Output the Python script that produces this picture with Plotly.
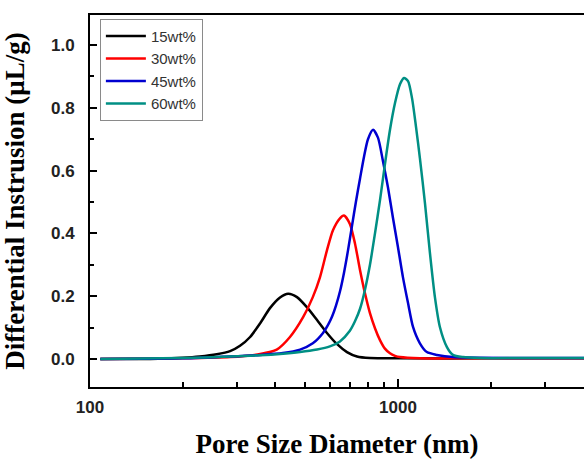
import plotly.graph_objects as go

# Pore diameter (nm) and differential intrusion (uL/g)
d15 = [108, 157, 200, 227, 258, 285, 307, 331, 357, 384, 414, 440, 470, 506, 546, 588, 633, 683, 736, 811, 1015, 2000, 4020]
v15 = [0.0, 0.0, 0.004, 0.008, 0.015, 0.025, 0.042, 0.07, 0.114, 0.162, 0.196, 0.208, 0.197, 0.165, 0.124, 0.083, 0.048, 0.022, 0.008, 0.003, 0.002, 0.002, 0.002]

d30 = [108, 200, 285, 357, 404, 446, 492, 529, 558, 588, 615, 648, 668, 698, 725, 753, 781, 811, 842, 874, 907, 942, 978, 1015, 1178, 1475, 2500, 4020]
v30 = [0.0, 0.002, 0.006, 0.016, 0.03, 0.07, 0.133, 0.197, 0.26, 0.346, 0.41, 0.448, 0.457, 0.43, 0.368, 0.283, 0.21, 0.146, 0.098, 0.06, 0.033, 0.018, 0.01, 0.006, 0.002, 0.002, 0.002, 0.002]

d45 = [108, 200, 285, 357, 423, 481, 529, 571, 594, 611, 629, 648, 668, 688, 708, 730, 753, 776, 799, 830, 861, 893, 928, 963, 1000, 1038, 1078, 1119, 1178, 1241, 1338, 1508, 2500, 4020]
v45 = [0.0, 0.002, 0.008, 0.013, 0.019, 0.03, 0.05, 0.083, 0.11, 0.135, 0.17, 0.215, 0.275, 0.345, 0.42, 0.5, 0.575, 0.645, 0.7, 0.73, 0.705, 0.632, 0.546, 0.45, 0.356, 0.26, 0.178, 0.102, 0.05, 0.022, 0.013, 0.006, 0.003, 0.003]

d60 = [108, 200, 285, 357, 414, 481, 546, 601, 648, 698, 725, 753, 781, 811, 842, 874, 907, 942, 978, 1015, 1046, 1078, 1111, 1144, 1178, 1224, 1270, 1318, 1368, 1442, 1508, 1626, 1846, 2500, 4020]
v60 = [0.0, 0.003, 0.008, 0.012, 0.016, 0.022, 0.03, 0.04, 0.056, 0.09, 0.12, 0.16, 0.22, 0.3, 0.4, 0.505, 0.62, 0.73, 0.815, 0.875, 0.895, 0.885, 0.83, 0.74, 0.64, 0.495, 0.337, 0.197, 0.102, 0.038, 0.013, 0.006, 0.003, 0.003, 0.003]

names = ["15wt%", "30wt%", "45wt%", "60wt%"]
colors = ["#000000", "#ff0000", "#0000d0", "#008f84"]
series = [(d15, v15), (d30, v30), (d45, v45), (d60, v60)]

x_major = [100, 1000]
x_major_text = ["100", "1000"]
x_minor = [200, 300, 400, 500, 600, 700, 800, 900, 2000, 3000, 4000]
y_major = [0.0, 0.2, 0.4, 0.6, 0.8, 1.0]
y_minor = [0.1, 0.3, 0.5, 0.7, 0.9]

fig = go.Figure()
for (dx, vy), name, col in zip(series, names, colors):
    fig.add_trace(go.Scatter(x=dx, y=vy, mode="lines", name=name,
                             line=dict(color=col, width=2.5, shape="spline", smoothing=0.7)))

tickfont = dict(family="Liberation Sans, Arial, sans-serif", size=17, color="#222222", weight="bold")
titlefont = dict(family="Liberation Serif, Times New Roman, serif", size=27, color="#000000", weight="bold")

fig.update_layout(
    width=584, height=459,
    margin=dict(l=90, r=0, t=15, b=72),
    paper_bgcolor="white", plot_bgcolor="white",
    showlegend=True,
    legend=dict(x=0.02, y=0.99, xanchor="left", yanchor="top",
                bgcolor="white", bordercolor="#8a8a8a", borderwidth=1,
                font=dict(family="Liberation Sans, Arial, sans-serif", size=15, color="#333333"),
                tracegroupgap=0, itemwidth=40),
    xaxis=dict(type="log", range=[2, 3.604], showgrid=False, zeroline=False,
               showline=True, linecolor="black", linewidth=2, mirror=True,
               tickmode="array", tickvals=x_major, ticktext=x_major_text,
               ticks="inside", ticklen=8, tickwidth=2, tickcolor="black",
               minor=dict(tickmode="array", tickvals=x_minor, ticks="inside", ticklen=5,
                          tickwidth=1.5, tickcolor="black", showgrid=False),
               tickfont=tickfont, ticklabelstandoff=4,
               title=dict(text="Pore Size Diameter (nm)", font=titlefont, standoff=20)),
    yaxis=dict(range=[-0.0892, 1.0955], showgrid=False, zeroline=False,
               showline=True, linecolor="black", linewidth=2, mirror=False,
               tickmode="array", tickvals=y_major, tickformat=".1f",
               ticks="inside", ticklen=7, tickwidth=2, tickcolor="black",
               minor=dict(tickmode="array", tickvals=y_minor, ticks="inside", ticklen=4,
                          tickwidth=1.5, tickcolor="black", showgrid=False),
               tickfont=tickfont, ticklabelstandoff=10,
               title=dict(text="Differential Instrusion (μL/g)", font=titlefont, standoff=22)),
)

fig.write_html("out.html")
